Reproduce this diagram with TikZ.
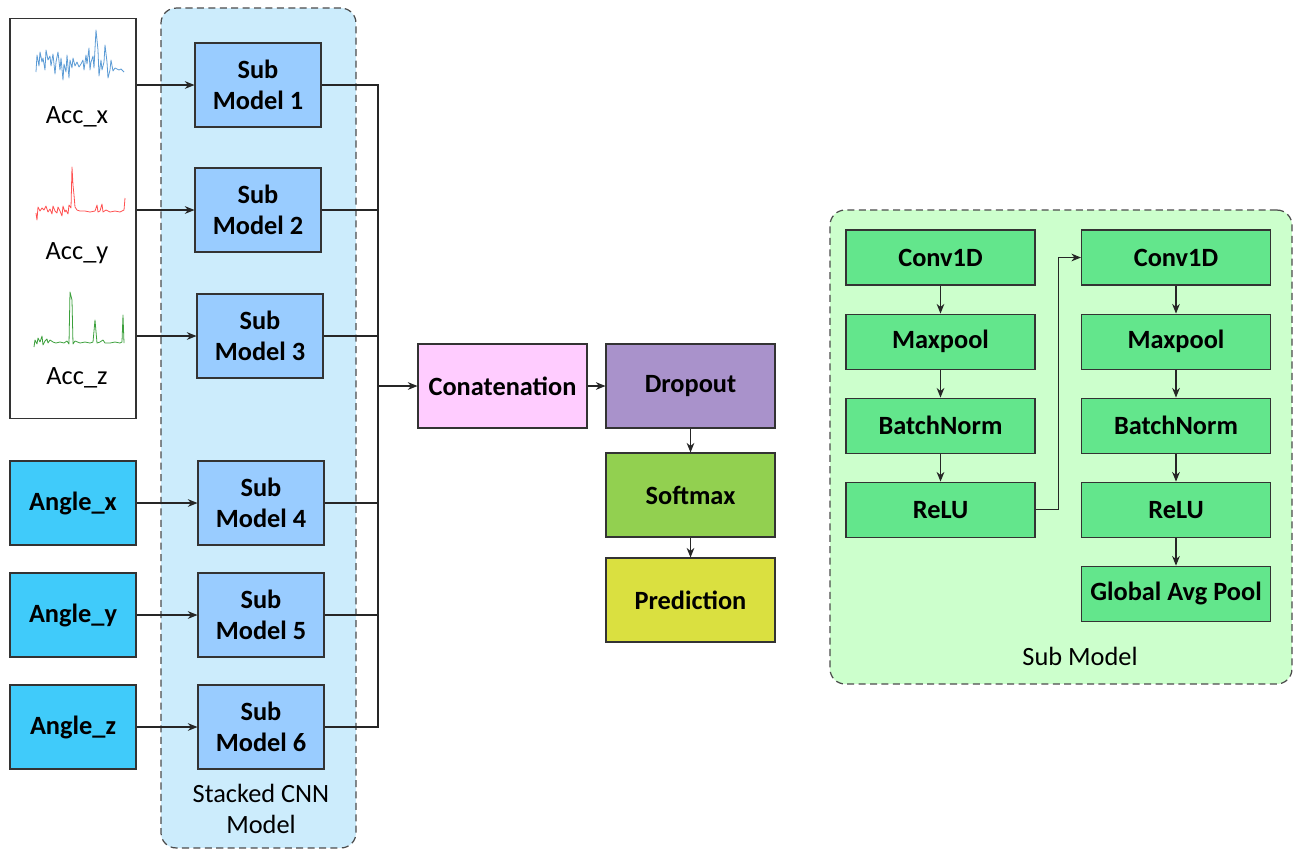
\documentclass[tikz,border=0pt]{standalone}
\usepackage{fontspec}
\setmainfont{Carlito}
\usetikzlibrary{positioning,arrows.meta}
\definecolor{anglecol}{RGB}{64,203,250}
\definecolor{subcol}{RGB}{153,204,255}
\definecolor{stackcol}{RGB}{204,236,252}
\definecolor{concatcol}{RGB}{255,204,255}
\definecolor{dropcol}{RGB}{169,146,203}
\definecolor{softcol}{RGB}{146,208,80}
\definecolor{predcol}{RGB}{218,224,64}
\definecolor{submodbg}{RGB}{204,255,204}
\definecolor{layercol}{RGB}{99,230,140}
\definecolor{sigblue}{RGB}{91,155,213}
\definecolor{sigred}{RGB}{255,80,80}
\definecolor{siggreen}{RGB}{60,160,60}
\tikzset{
  container/.style={draw=black!70,line width=0.7pt,dash pattern=on 4pt off 2.5pt,rounded corners=0.3cm},
  inbox/.style={draw=black!80,line width=0.6pt,fill=anglecol,minimum width=2.52cm,minimum height=1.68cm,font=\fontsize{15}{18}\selectfont\bfseries},
  subbox/.style={draw=black!80,line width=0.6pt,fill=subcol,minimum width=2.52cm,minimum height=1.68cm,align=center,font=\fontsize{15}{18}\selectfont\bfseries},
  headbox/.style={draw=black!80,line width=0.6pt,minimum width=3.38cm,minimum height=1.68cm,font=\fontsize{15}{18}\selectfont\bfseries},
  layerbox/.style={draw=black!80,line width=0.6pt,fill=layercol,minimum width=3.78cm,minimum height=1.1cm,font=\fontsize{15}{18}\selectfont\bfseries},
  flow/.style={-{Stealth[length=5.5pt,width=4.4pt]},line width=0.6pt,black!85},
  bus/.style={line width=0.6pt,black!85},
  signal/.style={line width=0.45pt,line join=round}
}

\begin{document}
\begin{tikzpicture}[x=0.02cm,y=-0.02cm,
  every node/.style={font=\fontsize{15}{18}\selectfont}]
\useasboundingbox (0,0) rectangle (1303,850);

% Containers
\node[container,fill=stackcol,minimum width=3.9cm,minimum height=16.8cm] (stack) at (258.5,428) {};
\node[container,fill=submodbg,minimum width=9.24cm,minimum height=9.48cm] (submod) at (1061,447) {};
\node (stacklabel) at (261,809) [align=center] {Stacked CNN\\Model};
\node (submodlabel) at (1080,656) {Sub Model};

% Accelerometer inputs
\node[draw=black!80,line width=0.6pt,fill=white,minimum width=2.52cm,minimum height=8.02cm] (acc) at (73,218.5) {};
\node (accxlab) at (77,117) {Acc\_x};
\node (accylab) at (77,253) {Acc\_y};
\node (acczlab) at (77,378) {Acc\_z};

% Signal traces
\draw[signal,sigblue] plot coordinates {(36,72)(37,55)(39,66)(40,52)(42,62)(43,58)(45,70)(46,50)(48,60)(50,56)(51,66)(53,54)(55,74)(56,62)(58,52)(60,70)(61,58)(63,80)(64,64)(66,72)(67,55)(69,78)(70,60)(72,68)(73,58)(75,66)(77,62)(79,67)(81,64)(83,60)(84,70)(86,55)(87,64)(89,48)(90,70)(91,62)(93,56)(94,68)(96,30)(98,50)(99,76)(101,60)(102,70)(104,62)(105,45)(107,62)(108,78)(110,70)(111,60)(113,71)(115,68)(117,69)(119,70)(121,69)(124,72)};
\draw[signal,sigred] plot coordinates {(36,213)(37,220)(38,207)(40,211)(42,208)(44,210)(46,206)(48,212)(50,209)(52,214)(53,206)(55,211)(57,213)(58,207)(60,211)(62,216)(63,206)(65,212)(66,210)(68,214)(69,205)(71,208)(72,167)(73,185)(74,195)(75,207)(77,210)(80,211)(85,211)(90,212)(95,211)(97,205)(98,212)(100,211)(102,204)(103,212)(106,210)(110,212)(115,211)(120,212)(124,210)(125,198)};
\draw[signal,siggreen] plot coordinates {(34,347)(35,340)(37,344)(38,338)(40,342)(42,336)(43,345)(45,341)(47,339)(48,343)(50,340)(53,342)(56,343)(60,342)(64,343)(67,341)(69,344)(70,292)(71,296)(72,300)(73,344)(75,341)(80,343)(85,342)(90,343)(93,342)(95,320)(97,343)(100,342)(103,340)(105,343)(110,343)(115,342)(120,343)(122,342)(123,315)(124,343)};

% Angle inputs
\node[inbox] (anglex) at (73,503) {Angle\_x};
\node[inbox] (angley) at (73,615) {Angle\_y};
\node[inbox] (anglez) at (73,727) {Angle\_z};

% Sub models
\node[subbox] (sub1) at (258,85) {Sub\\Model 1};
\node[subbox] (sub2) at (258,210) {Sub\\Model 2};
\node[subbox] (sub3) at (260,336) {Sub\\Model 3};
\node[subbox] (sub4) at (261,503) {Sub\\Model 4};
\node[subbox] (sub5) at (261,615) {Sub\\Model 5};
\node[subbox] (sub6) at (261,727) {Sub\\Model 6};

% Head
\node[headbox,fill=concatcol] (concat) at (502.5,386) {Conatenation};
\node[headbox,fill=dropcol] (dropout) at (690.5,386) {Dropout};
\node[headbox,fill=softcol] (softmax) at (690.5,495) {Softmax};
\node[headbox,fill=predcol] (predict) at (690.5,600) {Prediction};

% Inputs to sub models
\foreach \s in {sub1,sub2,sub3}
{
  \draw[flow] (\s.west -| acc.east) -- (\s.west);
}
\draw[flow] (anglex) -- (sub4);
\draw[flow] (angley) -- (sub5);
\draw[flow] (anglez) -- (sub6);

% Collecting bus
\coordinate (join) at (378,386);
\foreach \s in {sub1,sub2,sub3,sub4,sub5,sub6}
{
  \draw[bus] (\s.east) -| (join);
}
\draw[flow] (join) -- (concat);
\draw[flow] (concat) -- (dropout);
\draw[flow] (dropout) -- (softmax);
\draw[flow] (softmax) -- (predict);

% Sub model layers
\node[layerbox] (conva) at (940.5,257.5) {Conv1D};
\node[layerbox,below=0.56cm of conva] (poola) {Maxpool};
\node[layerbox,below=0.56cm of poola] (norma) {BatchNorm};
\node[layerbox,below=0.56cm of norma] (relua) {ReLU};
\node[layerbox] (convb) at (1176,257.5) {Conv1D};
\node[layerbox,below=0.56cm of convb] (poolb) {Maxpool};
\node[layerbox,below=0.56cm of poolb] (normb) {BatchNorm};
\node[layerbox,below=0.56cm of normb] (relub) {ReLU};
\node[layerbox,below=0.56cm of relub] (gap) {Global Avg Pool};

\foreach \i/\j in {conva/poola,poola/norma,norma/relua,convb/poolb,poolb/normb,normb/relub,relub/gap}
{
  \draw[flow] (\i) -- (\j);
}
\draw[flow] (relua.east) -- ++(23,0) |- (convb.west);

\end{tikzpicture}
\end{document}
